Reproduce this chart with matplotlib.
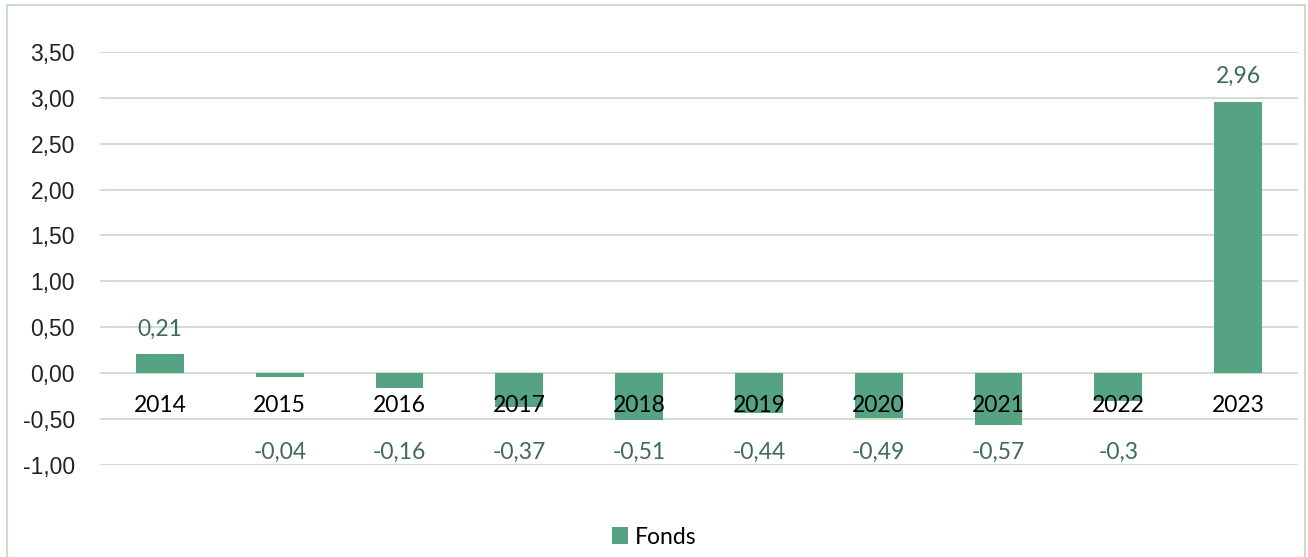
import matplotlib
matplotlib.use('Agg')
import matplotlib.pyplot as plt
import matplotlib.patches as patches

years = ['2014', '2015', '2016', '2017', '2018', '2019', '2020', '2021', '2022', '2023']
fonds = [0.21, -0.04, -0.16, -0.37, -0.51, -0.44, -0.49, -0.57, -0.30, 2.96]
labels = ['0,21', '-0,04', '-0,16', '-0,37', '-0,51', '-0,44', '-0,49', '-0,57', '-0,3', '2,96']
yticks = [-1.0, -0.5, 0.0, 0.5, 1.0, 1.5, 2.0, 2.5, 3.0, 3.5]

bar_col = '#55a383'
lab_col = '#3f6b58'
grid_col = '#c9dec9'
fs = 16.5

fig = plt.figure(figsize=(13.08, 5.57), dpi=100)
# outer chart border
fig.patches.append(patches.Rectangle((7/1308, -0.01), 1298/1308, 1 - 5/557 + 0.01,
                                     transform=fig.transFigure, fill=False,
                                     edgecolor=grid_col, lw=1.5))
ax = fig.add_axes([100/1308, 92.3/557, 1198/1308, 412.7/557])

x = range(len(years))
ax.bar(x, fonds, width=0.4, color=bar_col, zorder=2, label='Fonds')
ax.set_xlim(-0.5, len(years) - 0.5)
ax.set_ylim(-1.0, 3.5)
ax.set_yticks(yticks)
ax.set_yticklabels([f'{v:.2f}'.replace('.', ',') for v in yticks],
                   fontsize=fs, family='Liberation Sans', color='#222222')
ax.tick_params(axis='y', length=0, pad=18)
ax.set_xticks([])
ax.grid(axis='y', color=grid_col, lw=1.3, zorder=0)
for s in ax.spines.values():
    s.set_visible(False)

for i, (v, t) in enumerate(zip(fonds, labels)):
    # year labels sit just below zero line, over the bars
    ax.text(i, -0.35, years[i], ha='center', va='center', fontsize=fs,
            family='Lato', color='black', zorder=3)
    if v >= 0:
        ax.text(i, v + 0.27, t, ha='center', va='center', fontsize=fs,
                family='Lato', color=lab_col, zorder=3)
    else:
        ax.text(i, -0.86, t, ha='center', va='center', fontsize=fs,
                family='Lato', color=lab_col, zorder=3)

leg = fig.legend(loc='center', bbox_to_anchor=(0.5, 1 - 537/557), frameon=False,
                 prop={'family': 'Lato', 'size': fs}, handlelength=0.7,
                 handleheight=0.7, handletextpad=0.3)

fig.savefig('out.png', dpi=100)
